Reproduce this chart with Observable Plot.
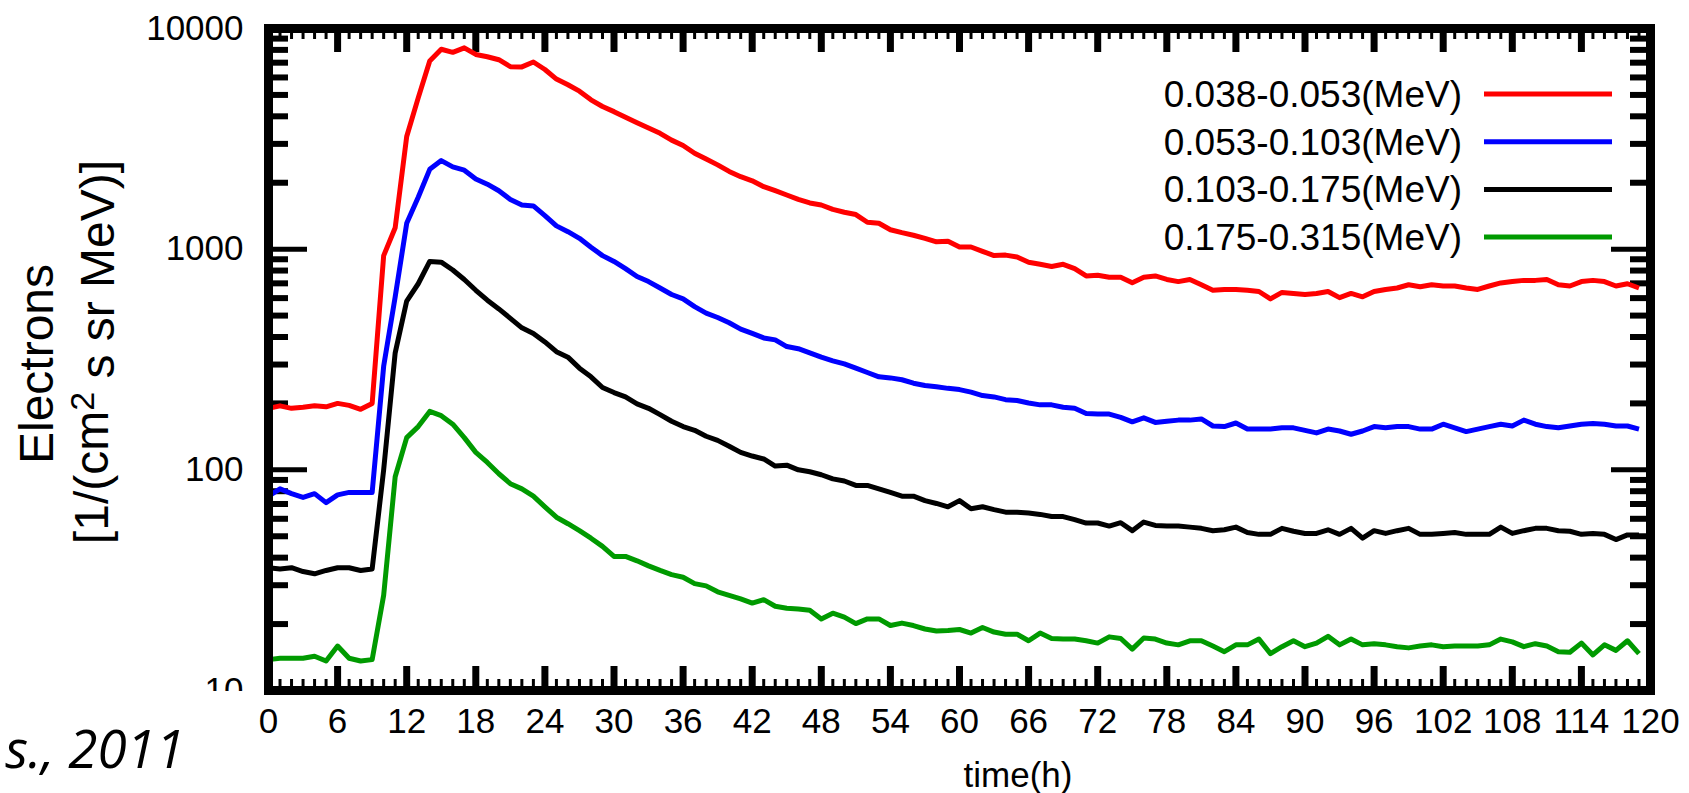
<!DOCTYPE html>
<html>
<head>
<meta charset="utf-8">
<script src="https://cdn.jsdelivr.net/npm/d3@7"></script>
<script src="https://cdn.jsdelivr.net/npm/@observablehq/plot@0.6"></script>
<style>
  html, body { margin: 0; padding: 0; background: #fff; }
  #chart { position: relative; width: 1689px; height: 793px; }
</style>
</head>
<body>
<div id="chart"></div>
<script>
// Hourly electron flux for four energy channels over five days.
const hours = d3.range(0, 120);

const bandLabels = ["0.038-0.053(MeV)", "0.053-0.103(MeV)", "0.103-0.175(MeV)", "0.175-0.315(MeV)"];
const bandColors = ["#ff0000", "#0000ff", "#000000", "#009a00"];

const fluxBand1 = [
  190, 195, 190, 192, 195, 193, 200, 196, 188, 200,
  935, 1250, 3240, 4850, 7130, 8050, 7800, 8170, 7630, 7450,
  7220, 6710, 6700, 7050, 6520, 5900, 5560, 5200, 4750, 4430,
  4200, 3960, 3740, 3540, 3350, 3120, 2950, 2720, 2560, 2410,
  2250, 2130, 2040, 1920, 1840, 1760, 1680, 1620, 1585, 1515,
  1470, 1435, 1324, 1310, 1225, 1188, 1156, 1120, 1080, 1085,
  1023, 1023, 978, 935, 940, 922, 873, 854, 835, 854,
  816, 756, 762, 746, 746, 705, 746, 756, 729, 713,
  729, 690, 651, 657, 657, 651, 643, 595, 637, 630,
  623, 630, 643, 603, 630, 608, 643, 657, 667, 690,
  675, 690, 681, 681, 667, 657, 681, 703, 713, 722,
  722, 729, 690, 681, 713, 722, 713, 681, 697, 667
];

const fluxBand2 = [
  76, 82, 78, 75, 78, 71, 77, 79, 79, 79,
  295, 608, 1310, 1720, 2300, 2520, 2360, 2280, 2080, 1970,
  1840, 1680, 1585, 1570, 1420, 1275, 1200, 1120, 1020, 935,
  880, 816, 752, 713, 667, 623, 595, 549, 513, 490,
  464, 434, 415, 396, 388, 362, 354, 339, 324, 312,
  302, 289, 276, 264, 261, 256, 247, 241, 238, 234,
  231, 225, 217, 214, 208, 206, 201, 197, 197, 192,
  190, 180, 179, 179, 173, 165, 172, 164, 166, 168,
  168, 170, 158, 157, 163, 153, 153, 153, 155, 155,
  151, 147, 153, 150, 145, 150, 157, 155, 157, 157,
  153, 153, 161, 155, 149, 153, 157, 161, 158, 168,
  161, 157, 155, 158, 161, 162, 161, 158, 158, 153
];

const fluxBand3 = [
  36, 35.5, 36, 34.6, 33.8, 35, 36, 36, 35, 35.5,
  100, 339, 582, 697, 880, 873, 805, 729, 651, 587,
  536, 486, 440, 415, 380, 343, 324, 289, 264, 236,
  224, 214, 199, 190, 178, 166, 157, 151, 142, 136,
  128, 120, 115.5, 112, 104, 105, 100, 98, 95, 91,
  89, 85, 85, 82, 79, 76, 76, 72.5, 70.4, 68,
  72.5, 66.6, 68, 66, 64.3, 64.3, 63.7, 62.8, 61.4, 61.4,
  59.5, 57.4, 57.4, 55.6, 57.6, 53, 58, 56, 55.6, 55.6,
  55, 54.3, 53, 53.5, 55, 52, 51, 51, 54.3, 52.7,
  51.5, 51.5, 53.5, 51, 54.3, 49, 53, 51.5, 53, 54.3,
  51, 51, 51.5, 52, 51, 51, 51, 55, 51.5, 53,
  54.3, 54.3, 53, 52.7, 51, 51.5, 51, 48.3, 50.7, 50.7
];

const fluxBand4 = [
  13.8, 14, 14, 14, 14.3, 13.6, 15.9, 14, 13.6, 13.8,
  27, 93, 140, 157, 184, 176, 161, 140, 120, 108,
  96, 86.5, 82, 76, 68, 61, 57, 53, 49, 45,
  40.5, 40.5, 38.7, 36.7, 35, 33.5, 32.6, 30.5, 29.8, 28,
  27, 26, 24.9, 25.8, 24.1, 23.6, 23.4, 23.1, 21.1, 22.4,
  21.5, 20.1, 21.1, 21.1, 19.7, 20.2, 19.7, 19, 18.6, 18.7,
  18.9, 18.2, 19.3, 18.4, 18, 18, 16.8, 18.2, 17.2, 17.1,
  17.1, 16.8, 16.4, 17.5, 17.2, 15.4, 17.3, 17.1, 16.4, 16.1,
  16.8, 16.8, 15.9, 15, 16.1, 16.1, 17.1, 14.7, 15.8, 16.8,
  15.8, 16.4, 17.6, 16.1, 17.1, 16.1, 16.3, 16.1, 15.8, 15.6,
  15.9, 16.1, 15.8, 15.9, 15.9, 15.9, 16.1, 17.1, 16.6, 15.8,
  16.3, 15.9, 15, 14.9, 16.4, 14.5, 16.1, 15.2, 16.8, 14.7
];

// Axis ticks: labelled every 6 h, minor every hour; log decades with 2..9 minors.
const xMajorTicks = d3.range(0, 121, 6);
const xMinorTicks = d3.range(0, 121, 1).filter(h => h % 6 !== 0);
const yMajorTicks = [10, 100, 1000, 10000];
const yMinorTicks = [10, 100, 1000].flatMap(d => d3.range(2, 10).map(k => k * d));

const fluxSeries = [fluxBand1, fluxBand2, fluxBand3, fluxBand4];
const rows = fluxSeries.flatMap((values, i) =>
  values.map((v, j) => ({hour: hours[j], flux: v, band: bandLabels[i]}))
);

const W = 1689, H = 793;
const mL = 268, mR = 39, mT = 28, mB = 103;
const innerW = W - mL - mR;
const innerH = H - mT - mB;

const font = "'Liberation Sans', Arial, Helvetica, sans-serif";

const chart = Plot.plot({
  width: W,
  height: H,
  marginLeft: mL,
  marginRight: mR,
  marginTop: mT,
  marginBottom: mB,
  style: {fontFamily: font, fontSize: "35px", color: "#000", background: "#fff", overflow: "visible"},
  x: {domain: [0, 120]},
  y: {type: "log", domain: [10, 10000]},
  color: {domain: bandLabels, range: bandColors},
  marks: [
    // in-frame tick marks, left and right
    Plot.ruleY(yMinorTicks, {y: d => d, insetRight: innerW - 20, strokeWidth: 6, stroke: "#000"}),
    Plot.ruleY(yMinorTicks, {y: d => d, insetLeft: innerW - 20, strokeWidth: 6, stroke: "#000"}),
    Plot.ruleY(yMajorTicks, {y: d => d, insetRight: innerW - 39, strokeWidth: 5, stroke: "#000"}),
    Plot.ruleY(yMajorTicks, {y: d => d, insetLeft: innerW - 39, strokeWidth: 5, stroke: "#000"}),
    // in-frame tick marks, bottom and top
    Plot.ruleX(xMinorTicks, {x: d => d, insetTop: innerH - 11, strokeWidth: 3, stroke: "#000"}),
    Plot.ruleX(xMinorTicks, {x: d => d, insetBottom: innerH - 11, strokeWidth: 3, stroke: "#000"}),
    Plot.ruleX(xMajorTicks, {x: d => d, insetTop: innerH - 24, strokeWidth: 7, stroke: "#000"}),
    Plot.ruleX(xMajorTicks, {x: d => d, insetBottom: innerH - 24, strokeWidth: 7, stroke: "#000"}),
    Plot.line(rows, {
      x: "hour", y: "flux", z: "band", stroke: "band",
      strokeWidth: 5, strokeLinejoin: "round", strokeLinecap: "butt"
    }),
    Plot.frame({stroke: "#000", strokeWidth: 9}),
    Plot.axisX(xMajorTicks, {tickSize: 0, tickPadding: 18, label: null, tickFormat: d => String(d)}),
    Plot.axisY(yMajorTicks, {tickSize: 0, tickPadding: 25, label: null, tickFormat: d => String(d)})
  ]
});

document.getElementById("chart").appendChild(chart);

const svg = d3.select(chart);

// legend, top right inside the frame
const legend = svg.append("g").attr("font-family", font).attr("font-size", 37);
bandLabels.forEach((label, i) => {
  const y = 94 + i * 47.7;
  legend.append("text")
    .attr("x", 1462).attr("y", y).attr("dy", "0.35em")
    .attr("text-anchor", "end").attr("fill", "#000")
    .text(label);
  legend.append("line")
    .attr("x1", 1484).attr("x2", 1612).attr("y1", y).attr("y2", y)
    .attr("stroke", bandColors[i]).attr("stroke-width", 5);
});

// axis titles
svg.append("text")
  .attr("transform", "translate(1018,787)")
  .attr("text-anchor", "middle").attr("font-family", font).attr("font-size", 35)
  .attr("fill", "#000").text("time(h)");

svg.append("text")
  .attr("transform", "translate(53,364) rotate(-90)")
  .attr("text-anchor", "middle").attr("font-family", font).attr("font-size", 48)
  .attr("fill", "#000").text("Electrons");

const unitTitle = svg.append("text")
  .attr("transform", "translate(108,352) rotate(-90)")
  .attr("text-anchor", "middle").attr("font-family", font).attr("font-size", 48)
  .attr("fill", "#000");
unitTitle.append("tspan").text("[1/(cm");
unitTitle.append("tspan").attr("dy", "-0.42em").attr("font-size", 34).text("2");
unitTitle.append("tspan").attr("dy", "0.42em").text(" s sr MeV)]");

// citation box in the lower-left corner
svg.append("rect")
  .attr("x", 0).attr("y", 691).attr("width", 250).attr("height", H - 691)
  .attr("fill", "#fff");
svg.append("text")
  .attr("x", 185).attr("y", 768)
  .attr("text-anchor", "end")
  .attr("font-family", "'Open Sans', 'Noto Sans', sans-serif")
  .attr("font-style", "italic").attr("font-size", 53)
  .attr("fill", "#000").text("s., 2011");
</script>
</body>
</html>
